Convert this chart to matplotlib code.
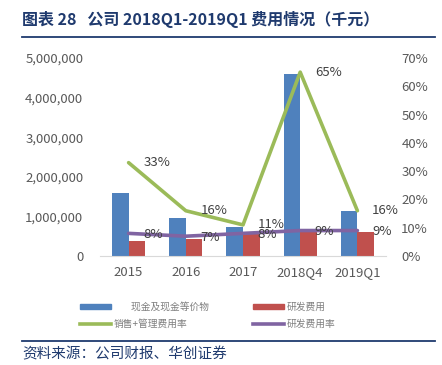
import matplotlib.pyplot as plt
from matplotlib.ticker import FuncFormatter
from matplotlib.lines import Line2D
from matplotlib.patches import Patch
import numpy as np

plt.rcParams['font.family'] = ['Noto Sans CJK SC', 'DejaVu Sans']

# Data
categories = ['2015', '2016', '2017', '2018Q4', '2019Q1']
cash = [1590000, 970000, 730000, 4590000, 1140000]
rnd = [380000, 430000, 580000, 600000, 610000]
sales_mgmt_rate = [33, 16, 11, 65, 16]
rnd_rate = [8, 7, 8, 9, 9]

blue = '#4F81BD'
red = '#C0504D'
green = '#9BBB59'
purple = '#8064A2'
grey = '#595959'
navy = '#1F3A6E'

fig = plt.figure(figsize=(4.42, 3.65), dpi=100)
ax = fig.add_axes([100 / 442, 1 - 256 / 365, 286 / 442, 198 / 365])

x = np.arange(len(categories))
w = 0.29
ax.bar(x - w / 2, cash, w, color=blue)
ax.bar(x + w / 2, rnd, w, color=red)
ax.set_xlim(-0.5, len(categories) - 0.5)
ax.set_ylim(0, 5000000)
ax.set_yticks(range(0, 5000001, 1000000))
ax.yaxis.set_major_formatter(FuncFormatter(lambda v, p: f'{int(v):,}'))
ax.set_xticks(x)
ax.set_xticklabels(categories)
for s in ['top', 'right', 'left']:
    ax.spines[s].set_visible(False)
ax.spines['bottom'].set_color('#D9D9D9')
ax.tick_params(axis='both', length=0, colors=grey, labelsize=9.5)
ax.tick_params(axis='y', pad=12)
ax.tick_params(axis='x', pad=7)

ax2 = ax.twinx()
ax2.plot(x, sales_mgmt_rate, color=green, lw=2.6, solid_capstyle='round')
ax2.plot(x, rnd_rate, color=purple, lw=2.6, solid_capstyle='round')
ax2.set_ylim(0, 70)
ax2.set_yticks(range(0, 71, 10))
ax2.yaxis.set_major_formatter(FuncFormatter(lambda v, p: f'{int(v)}%'))
for s in ['top', 'right', 'left', 'bottom']:
    ax2.spines[s].set_visible(False)
ax2.tick_params(axis='y', length=0, colors=grey, labelsize=9.5, pad=11)

for xi, v in zip(x, sales_mgmt_rate):
    ax2.annotate(f'{v}%', (xi, v), xytext=(10.5, 0), textcoords='offset points',
                 color='#404040', fontsize=9.5, va='center', ha='left')
for xi, v in zip(x, rnd_rate):
    ax2.annotate(f'{v}%', (xi, v), xytext=(10.5, -1), textcoords='offset points',
                 color='#404040', fontsize=9.5, va='center', ha='left')

# Legend
handles = [Patch(color=blue), Line2D([], [], color=green, lw=2.6),
           Patch(color=red), Line2D([], [], color=purple, lw=2.6)]
labels = ['        现金及现金等价物', '销售+管理费用率', '研发费用', '研发费用率']
fig.legend(handles, labels, ncol=2, loc='center', bbox_to_anchor=(0.47, 0.136),
           frameon=False, fontsize=7, labelcolor='#7F7F7F', handlelength=3.2,
           handleheight=0.5, columnspacing=4.5, handletextpad=0.3, labelspacing=0.7)

# Title and source
fig.text(22 / 442, 1 - 20 / 365, '图表 28   公司 2018Q1-2019Q1 费用情况（千元）',
         fontsize=11.5, fontweight='bold', color=navy, va='center', ha='left')
fig.add_artist(Line2D([22 / 442, 435 / 442], [1 - 37 / 365] * 2, color=navy, lw=1.3))
fig.add_artist(Line2D([22 / 442, 435 / 442], [1 - 341 / 365] * 2, color=navy, lw=1.3))
fig.text(22 / 442, 1 - 354 / 365, '资料来源：公司财报、华创证券', fontsize=10.5,
         style='italic', color=navy, va='center', ha='left')

fig.savefig('out.png', dpi=100)
